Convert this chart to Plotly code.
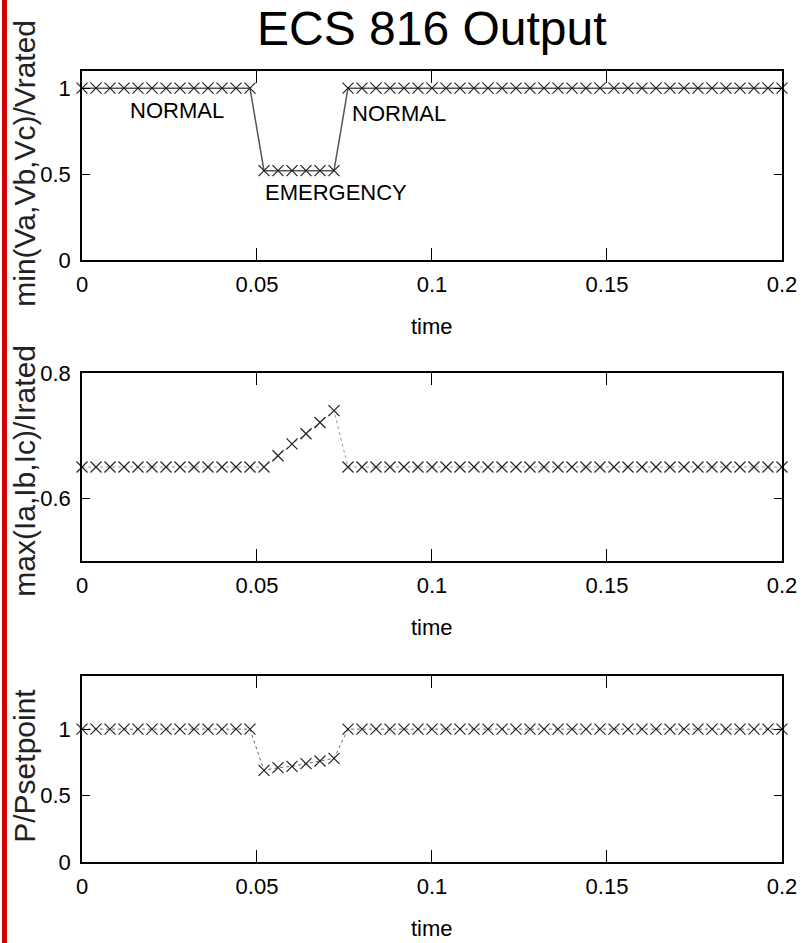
import plotly.graph_objects as go

# ---- data ----
time = [0.000, 0.004, 0.008, 0.012, 0.016, 0.020, 0.024, 0.028, 0.032, 0.036,
        0.040, 0.044, 0.048, 0.052, 0.056, 0.060, 0.064, 0.068, 0.072, 0.076,
        0.080, 0.084, 0.088, 0.092, 0.096, 0.100, 0.104, 0.108, 0.112, 0.116,
        0.120, 0.124, 0.128, 0.132, 0.136, 0.140, 0.144, 0.148, 0.152, 0.156,
        0.160, 0.164, 0.168, 0.172, 0.176, 0.180, 0.184, 0.188, 0.192, 0.196,
        0.200]

v_min = [1.0] * 13 + [0.52, 0.52, 0.52, 0.52, 0.52, 0.52] + [1.0] * 32
i_max = [0.65] * 14 + [0.668, 0.687, 0.703, 0.721, 0.740] + [0.65] * 32
p_ratio = [1.0] * 13 + [0.69, 0.71, 0.72, 0.74, 0.76, 0.78] + [1.0] * 32

x_ticks = [0, 0.05, 0.1, 0.15, 0.2]
x_ticklabels = ["0", "0.05", "0.1", "0.15", "0.2"]
y1_ticks, y1_labels = [0, 0.5, 1], ["0", "0.5", "1"]
y2_ticks, y2_labels = [0.6, 0.8], ["0.6", "0.8"]
y3_ticks, y3_labels = [0, 0.5, 1], ["0", "0.5", "1"]

title_text = "ECS 816 Output"
y_titles = ["min(Va,Vb,Vc)/Vrated", "max(Ia,Ib,Ic)/Irated", "P/Psetpoint"]
x_title = "time"
state_labels = ["NORMAL", "EMERGENCY", "NORMAL"]
state_x = [0.0130, 0.0516, 0.0765]
state_y = [0.872, 0.39, 0.855]

# ---- figure ----
W, H = 809, 943
ML, MR, MT, MB = 82, 18, 71, 81
PW, PH = W - ML - MR, H - MT - MB

def py(pix):  # pixel y -> paper y
    return (H - MB - pix) / PH

def px(pix):  # pixel x -> paper x
    return (pix - ML) / PW

SANS = "Liberation Sans, Arial, sans-serif"
FS = 22

fig = go.Figure()

mk = dict(symbol="x-thin", size=11, color="#222", line=dict(width=1.2, color="#222"))

fig.add_trace(go.Scatter(x=time, y=v_min, mode="lines+markers", xaxis="x", yaxis="y",
                         line=dict(color="#555", width=1.5), marker=mk, cliponaxis=False,
                         showlegend=False))
fig.add_trace(go.Scatter(x=time, y=i_max, mode="lines+markers", xaxis="x2", yaxis="y2",
                         line=dict(color="#999", width=1, dash="dot"), marker=mk, cliponaxis=False,
                         showlegend=False))
fig.add_trace(go.Scatter(x=time, y=p_ratio, mode="lines+markers", xaxis="x3", yaxis="y3",
                         line=dict(color="#666", width=1, dash="dot"), marker=mk, cliponaxis=False,
                         showlegend=False))

domains = [(py(260), py(71)), (py(561), py(373)), (py(862), py(676))]

common_x = dict(range=[0, 0.20001], tickvals=x_ticks, ticktext=x_ticklabels,
                ticks="inside", ticklen=12, tickwidth=1.3, tickcolor="black",
                showline=True, linecolor="black", linewidth=1.6, mirror="ticks",
                showgrid=False, zeroline=False, ticklabelstandoff=4,
                tickfont=dict(family=SANS, size=FS, color="black"))
common_y = dict(ticks="inside", ticklen=8, tickwidth=1.3, tickcolor="black",
                showline=True, linecolor="black", linewidth=1.6, mirror="ticks",
                showgrid=False, zeroline=False, ticklabelstandoff=5,
                tickfont=dict(family=SANS, size=FS, color="black"))

fig.update_layout(
    width=W, height=H, autosize=False,
    margin=dict(l=ML, r=MR, t=MT, b=MB),
    paper_bgcolor="white", plot_bgcolor="white",
    xaxis=dict(domain=[0, 1], anchor="y", **common_x),
    xaxis2=dict(domain=[0, 1], anchor="y2", **common_x),
    xaxis3=dict(domain=[0, 1], anchor="y3", **common_x),
    yaxis=dict(domain=list(domains[0]), anchor="x", range=[0, 1.1],
               tickvals=y1_ticks, ticktext=y1_labels, **common_y),
    yaxis2=dict(domain=list(domains[1]), anchor="x2", range=[0.5, 0.8],
                tickvals=y2_ticks, ticktext=y2_labels, **common_y),
    yaxis3=dict(domain=list(domains[2]), anchor="x3", range=[0, 1.4],
                tickvals=y3_ticks, ticktext=y3_labels, **common_y),
)

ann = []
ann.append(dict(text=title_text, xref="paper", yref="paper", x=px(437), y=py(0),
                xanchor="center", yanchor="top", showarrow=False,
                font=dict(family=SANS, size=48, color="black")))
for axis_pix in (260, 561, 862):
    ann.append(dict(text=x_title, xref="paper", yref="paper", x=px(436), y=py(axis_pix + 66),
                    xanchor="center", yanchor="middle", showarrow=False,
                    font=dict(family=SANS, size=FS, color="black")))
for t, cpix in zip(y_titles, (163, 471, 766)):
    ann.append(dict(text=t, xref="paper", yref="paper", x=px(23), y=py(cpix),
                    xanchor="center", yanchor="middle", textangle=-90, showarrow=False,
                    font=dict(family=SANS, size=30, color="#222")))
for t, xv, yv in zip(state_labels, state_x, state_y):
    ann.append(dict(text=t, xref="x", yref="y", x=xv, y=yv, xanchor="left", yanchor="middle",
                    showarrow=False, font=dict(family=SANS, size=FS, color="black")))
fig.update_layout(annotations=ann)

fig.add_shape(type="rect", xref="paper", yref="paper", x0=px(1), x1=px(6), y0=py(H), y1=py(0),
              fillcolor="#d40000", line=dict(width=0), layer="above")

fig.write_html("out.html", config={"displayModeBar": False},
               post_script="document.body.style.margin='0';document.body.style.overflow='hidden';")
